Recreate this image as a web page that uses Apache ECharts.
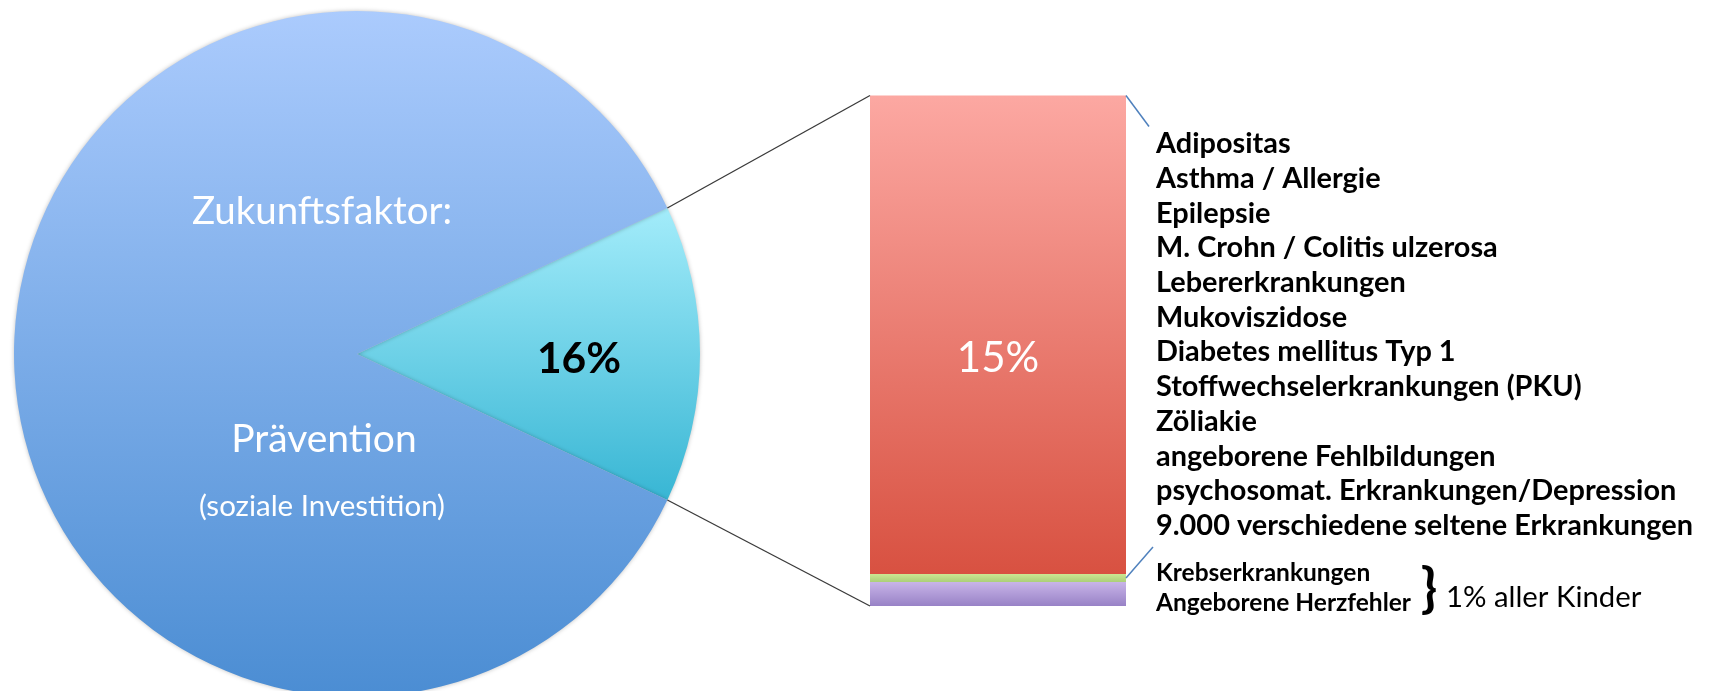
<!DOCTYPE html>
<html>
<head>
<meta charset="utf-8">
<script src="https://cdn.jsdelivr.net/npm/echarts@6/dist/echarts.min.js"></script>
<style>
html,body{margin:0;padding:0;background:#fff;}
#chart{width:1722px;height:691px;}
</style>
</head>
<body>
<div id="chart"></div>
<script>
// ---- data ----
var pieNames = ['Kinder mit chronischen Erkrankungen', 'Übrige'];
var pieValues = [14, 86];              // slice size as drawn in the picture
var pieSliceLabel = '16%';
var pieTextLines = ['Zukunftsfaktor:', 'Prävention', '(soziale Investition)'];

var barCategories = ['Kinder'];
var barRed = [15];        // 15%
var barGreen = [0.25];    // Krebserkrankungen
var barPurple = [0.75];   // Angeborene Herzfehler
var barRedLabel = '15%';
var redItems = [
  'Adipositas',
  'Asthma / Allergie',
  'Epilepsie',
  'M. Crohn / Colitis ulzerosa',
  'Lebererkrankungen',
  'Mukoviszidose',
  'Diabetes mellitus Typ 1',
  'Stoffwechselerkrankungen (PKU)',
  'Zöliakie',
  'angeborene Fehlbildungen',
  'psychosomat. Erkrankungen/Depression',
  '9.000 verschiedene seltene Erkrankungen'
];
var greenItem = 'Krebserkrankungen';
var purpleItem = 'Angeborene Herzfehler';
var braceText = '1% aller Kinder';

// ---- chart ----
var FONT = 'Lato';
var pieCenter = [357, 354];
var pieRadius = 343;
var total = pieValues[0] + pieValues[1];
var halfSlice = 360 * pieValues[0] / total / 2;

function vgrad(c0, c1) {
  return new echarts.graphic.LinearGradient(0, 0, 0, 1, [
    {offset: 0, color: c0}, {offset: 1, color: c1}
  ]);
}

var chart = echarts.init(document.getElementById('chart'), null, {renderer: 'canvas'});
var yMax = barRed[0] + barGreen[0] + barPurple[0];

chart.setOption({
  animation: false,
  backgroundColor: '#ffffff',
  grid: {left: 870, top: 95.5, width: 256, height: 510.5, containLabel: false},
  xAxis: {type: 'category', data: barCategories, show: false},
  yAxis: {type: 'value', min: 0, max: yMax, show: false},
  series: [
    {
      type: 'pie',
      center: pieCenter,
      radius: pieRadius,
      startAngle: halfSlice,
      clockwise: true,
      label: {show: false},
      labelLine: {show: false},
      emphasis: {disabled: true},
      itemStyle: {shadowBlur: 4, shadowColor: 'rgba(0,0,0,0.25)'},
      data: [
        {name: pieNames[0], value: pieValues[0], itemStyle: {color: vgrad('#a3ecfa', '#38b6d4')}},
        {name: pieNames[1], value: pieValues[1], itemStyle: {color: vgrad('#abcbfd', '#4b8dd3')}}
      ]
    },
    {
      type: 'bar', stack: 's', barWidth: '100%', barCategoryGap: 0,
      data: barPurple,
      itemStyle: {color: vgrad('#c8b4e8', '#9882c6')},
      label: {show: true, position: 'right', distance: 30, offset: [0, 9],
        formatter: purpleItem, fontFamily: FONT, fontWeight: 'bold', fontSize: 24.5, color: '#000'}
    },
    {
      type: 'bar', stack: 's', barWidth: '100%', barCategoryGap: 0,
      data: barGreen,
      itemStyle: {color: vgrad('#cce792', '#abcf78')},
      label: {show: true, position: 'right', distance: 30, offset: [0, -5],
        formatter: greenItem, fontFamily: FONT, fontWeight: 'bold', fontSize: 24.5, color: '#000'}
    },
    {
      type: 'bar', stack: 's', barWidth: '100%', barCategoryGap: 0,
      data: barRed,
      itemStyle: {color: vgrad('#fca8a2', '#d85141')},
      label: {show: true, position: 'right', distance: 30,
        formatter: redItems.join('\n'), fontFamily: FONT, fontWeight: 'bold',
        fontSize: 28.9, lineHeight: 34.7, color: '#000', align: 'left'}
    }
  ]
});

// ---- annotations derived from the library's layout ----
var cx = pieCenter[0], cy = pieCenter[1];
var a = halfSlice * Math.PI / 180;
var pUp = [cx + pieRadius * Math.cos(a), cy - pieRadius * Math.sin(a)];
var pDn = [cx + pieRadius * Math.cos(a), cy + pieRadius * Math.sin(a)];
var topLeft = chart.convertToPixel({gridIndex: 0}, [0, yMax]);
var bandW = 256;
var barL = topLeft[0] - bandW / 2, barR = topLeft[0] + bandW / 2;
var barTop = topLeft[1];
var barBot = chart.convertToPixel({gridIndex: 0}, [0, 0])[1];
var greenMid = chart.convertToPixel({gridIndex: 0}, [0, barPurple[0] + barGreen[0] / 2])[1];
var redMidY = chart.convertToPixel({gridIndex: 0}, [0, (yMax) / 2])[1];

function txt(x, y, s, size, weight, color, align) {
  return {type: 'text', x: x, y: y, silent: true, z: 100,
    style: {text: s, font: weight + ' ' + size + 'px ' + FONT, fill: color,
      align: align || 'center', verticalAlign: 'middle'}};
}

chart.setOption({
  graphic: [
    {type: 'line', silent: true, z: 50, shape: {x1: pUp[0], y1: pUp[1], x2: barL, y2: barTop},
      style: {stroke: '#3a3a3a', lineWidth: 1.3}},
    {type: 'line', silent: true, z: 50, shape: {x1: pDn[0], y1: pDn[1], x2: barL, y2: barBot},
      style: {stroke: '#3a3a3a', lineWidth: 1.3}},
    {type: 'line', silent: true, z: 50, shape: {x1: barR, y1: barTop, x2: barR + 23, y2: barTop + 31},
      style: {stroke: '#4f81bd', lineWidth: 1.5}},
    {type: 'line', silent: true, z: 50, shape: {x1: barR, y1: greenMid, x2: barR + 27, y2: greenMid - 31},
      style: {stroke: '#4f81bd', lineWidth: 1.5}},
    txt(cx - 35, cy - 142, pieTextLines[0], 38.5, 'normal', '#ffffff'),
    txt(cx - 33, cy + 85, pieTextLines[1], 39, 'normal', '#ffffff'),
    txt(cx - 35, cy + 152, pieTextLines[2], 29.5, 'normal', '#ffffff'),
    txt(cx + 222, cy + 5, pieSliceLabel, 42.5, 'bold', '#000000'),
    txt((barL + barR) / 2, redMidY + 8, barRedLabel, 42, 'normal', '#ffffff'),
    txt(barR + 303, barBot - 16, '}', 54, 'bold', '#000000'),
    txt(barR + 320, barBot - 8, braceText, 29.3, 'normal', '#000000', 'left')
  ]
});
</script>
</body>
</html>
